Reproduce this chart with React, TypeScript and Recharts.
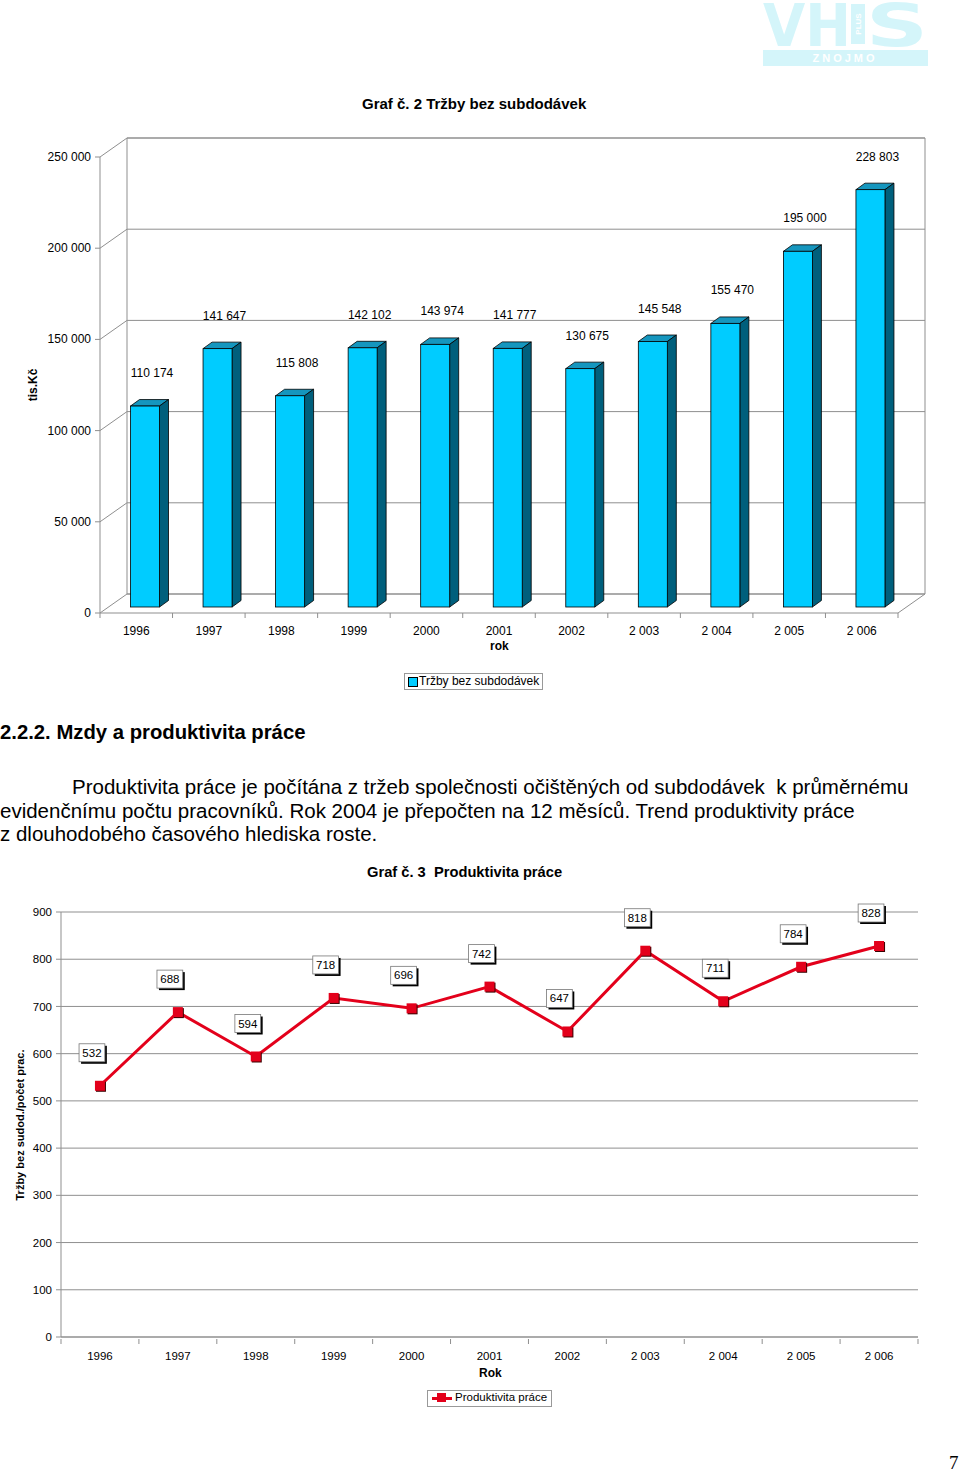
import React from "react";
import { BarChart, Bar, XAxis, YAxis, CartesianGrid, ReferenceArea, LabelList, LineChart, Line } from "recharts";

const years = ["1996", "1997", "1998", "1999", "2000", "2001", "2002", "2 003", "2 004", "2 005", "2 006"];
const salesTicks = [0, 50000, 100000, 150000, 200000, 250000];
const sales = [110174, 141647, 115808, 142102, 143974, 141777, 130675, 145548, 155470, 195000, 228803];
const productivityTicks = [0, 100, 200, 300, 400, 500, 600, 700, 800, 900];
const productivity = [532, 688, 594, 718, 696, 742, 647, 818, 711, 784, 828];

const FONT = "'Liberation Sans', Arial, Helvetica, sans-serif";
const GRID = "#8f8f8f";
const LOGO = "#D4F5FA";

// chart 1 geometry (back wall is the plot area, front axes are shifted by the depth)
const C1_W = 960;
const C1_H = 700;
const C1_MARGIN = { top: 138, right: 35, bottom: 105, left: 126 };
const DEPTH_X = 27;
const DEPTH_Y = 19;
const BAR_SHIFT_X = 18.5;
const BAR_SHIFT_Y = 13;
const BAR_DX = 9;
const BAR_DY = 6.5;
const C1_LEFT = C1_MARGIN.left + 1;
const C1_BAND = (C1_W - C1_LEFT - C1_MARGIN.right) / years.length;
const C1_BOTTOM = C1_H - C1_MARGIN.bottom - 1;

// chart 2 geometry
const C2_TOP = 880;
const C2_W = 960;
const C2_H = 500;
const C2_MARGIN = { top: 32, right: 42, bottom: 0, left: 0 };
const C2_YW = 61;
const C2_XH = 43;
const C2_BAND = (C2_W - C2_YW - C2_MARGIN.right) / years.length;

const salesData = years.map((year, i) => ({ year, value: sales[i] }));
const productivityData = years.map((year, i) => ({ year, value: productivity[i] }));

const fmt = (v: number) => String(v).replace(/\B(?=(\d{3})+(?!\d))/g, " ");

const Bar3D = (props: any) => {
  const { x, y, width, height } = props;
  const fx = x - BAR_SHIFT_X;
  const fy = y + BAR_SHIFT_Y;
  return (
    <g>
      <polygon
        points={`${fx},${fy} ${fx + BAR_DX},${fy - BAR_DY} ${fx + width + BAR_DX},${fy - BAR_DY} ${fx + width},${fy}`}
        fill="#1596BE"
        stroke="#000"
        strokeWidth={0.8}
      />
      <polygon
        points={`${fx + width},${fy} ${fx + width + BAR_DX},${fy - BAR_DY} ${fx + width + BAR_DX},${fy + height - BAR_DY} ${fx + width},${fy + height}`}
        fill="#005F7C"
        stroke="#000"
        strokeWidth={0.8}
      />
      <rect x={fx} y={fy} width={width} height={height} fill="#00CCFF" stroke="#000" strokeWidth={0.8} />
    </g>
  );
};

const SalesLabel = (props: any) => {
  const { x, y, value } = props;
  return (
    <text x={x + 3} y={y + BAR_SHIFT_Y - 29} textAnchor="middle" fontSize={12} fontFamily={FONT} fill="#000">
      {fmt(value)}
    </text>
  );
};

const SalesYTick = (props: any) => {
  const { y, payload } = props;
  const backX = C1_LEFT;
  const frontX = backX - DEPTH_X;
  const fy = y + DEPTH_Y;
  return (
    <g>
      <line x1={frontX} y1={fy} x2={backX} y2={y} stroke={GRID} />
      <line x1={frontX - 5} y1={fy} x2={frontX} y2={fy} stroke={GRID} />
      <text x={frontX - 9} y={fy + 4} textAnchor="end" fontSize={12} fontFamily={FONT} fill="#000">
        {fmt(payload.value)}
      </text>
    </g>
  );
};

const SalesXTick = (props: any) => {
  const { x, index, payload } = props;
  const fx = x - DEPTH_X;
  const fy = C1_BOTTOM + DEPTH_Y;
  const last = index === years.length - 1;
  return (
    <g>
      <line x1={fx - C1_BAND / 2} y1={fy} x2={fx - C1_BAND / 2} y2={fy + 5} stroke={GRID} />
      {last && <line x1={fx + C1_BAND / 2} y1={fy} x2={fx + C1_BAND / 2} y2={fy + 5} stroke={GRID} />}
      {last && <line x1={fx + C1_BAND / 2} y1={fy} x2={fx + C1_BAND / 2 + DEPTH_X} y2={C1_BOTTOM} stroke={GRID} />}
      <text x={fx} y={fy + 22} textAnchor="middle" fontSize={12} fontFamily={FONT} fill="#000">
        {payload.value}
      </text>
    </g>
  );
};

const ProdXTick = (props: any) => {
  const { x, y, index, payload } = props;
  const last = index === years.length - 1;
  return (
    <g>
      <line x1={x - C2_BAND / 2} y1={y} x2={x - C2_BAND / 2} y2={y + 5} stroke={GRID} />
      {last && <line x1={x + C2_BAND / 2} y1={y} x2={x + C2_BAND / 2} y2={y + 5} stroke={GRID} />}
      <text x={x} y={y + 21} textAnchor="middle" fontSize={11.5} fontFamily={FONT} fill="#000">
        {payload.value}
      </text>
    </g>
  );
};

const SquareDot = (props: any) => {
  const { cx, cy } = props;
  if (cx == null || cy == null) return null;
  return (
    <g>
      <rect x={cx - 4} y={cy - 4} width={10} height={10} fill="#3a0000" />
      <rect x={cx - 5} y={cy - 5} width={10} height={10} fill="#E3001B" />
    </g>
  );
};

const ProdLabel = (props: any) => {
  const { x, y, value } = props;
  const w = String(value).length * 6.6 + 6;
  const h = 18;
  const cx = x - 8;
  const cy = y - 33;
  return (
    <g>
      <rect x={cx - w / 2 + 2} y={cy - h / 2 + 2} width={w} height={h} fill="#000" />
      <rect x={cx - w / 2} y={cy - h / 2} width={w} height={h} fill="#fff" stroke="#777" strokeWidth={0.8} />
      <text x={cx} y={cy + 4} textAnchor="middle" fontSize={11.5} fontFamily={FONT} fill="#000">
        {value}
      </text>
    </g>
  );
};

const abs = (left: number, top: number, extra: React.CSSProperties = {}): React.CSSProperties => ({
  position: "absolute",
  left,
  top,
  fontFamily: FONT,
  color: "#000",
  whiteSpace: "pre",
  ...extra,
});

const rotated = (cx: number, cy: number, size: number): React.CSSProperties => ({
  position: "absolute",
  left: cx,
  top: cy,
  transform: "translate(-50%, -50%) rotate(-90deg)",
  fontFamily: FONT,
  fontWeight: "bold",
  fontSize: size,
  whiteSpace: "nowrap",
  color: "#000",
});

const Logo = () => (
  <svg style={{ position: "absolute", left: 760, top: 0 }} width={172} height={70}>
    <text x={3} y={46} fontSize={58} fontWeight={900} fontFamily="'DejaVu Sans', sans-serif" fill={LOGO} textLength={88} lengthAdjust="spacingAndGlyphs">
      VH
    </text>
    <rect x={91} y={4} width={14} height={40} fill={LOGO} />
    <text x={98} y={24} fontSize={8} fontWeight="bold" fontFamily={FONT} fill="#fff" textAnchor="middle" dominantBaseline="central" transform="rotate(-90 98 24)">
      PLUS
    </text>
    <text x={106} y={46} fontSize={58} fontWeight={900} fontFamily="'DejaVu Sans', sans-serif" fill={LOGO} textLength={62} lengthAdjust="spacingAndGlyphs">
      S
    </text>
    <rect x={3} y={50} width={165} height={16} fill={LOGO} />
    <text x={85} y={62} fontSize={11} fontWeight="bold" fontFamily={FONT} fill="#fff" textAnchor="middle" letterSpacing={3}>
      ZNOJMO
    </text>
  </svg>
);

export default function App() {
  return (
    <div style={{ position: "absolute", left: 0, top: 0, width: 960, height: 1473, background: "#fff", overflow: "hidden" }}>
      <Logo />

      <div style={abs(362, 95, { fontSize: 15, fontWeight: "bold" })}>Graf č. 2 Tržby bez subdodávek</div>

      <div style={{ position: "absolute", left: 0, top: 0 }}>
        <BarChart width={C1_W} height={C1_H} data={salesData} margin={C1_MARGIN} barSize={29}>
          <CartesianGrid vertical={false} stroke={GRID} />
          <ReferenceArea y1={0} y2={250000} fill="none" stroke={GRID} ifOverflow="visible" />
          <YAxis
            width={1}
            domain={[0, 250000]}
            ticks={salesTicks}
            interval={0}
            tickSize={0}
            tickLine={false}
            tick={<SalesYTick />}
            axisLine={{ stroke: GRID, transform: `translate(${-DEPTH_X}, ${DEPTH_Y})` } as any}
          />
          <XAxis
            dataKey="year"
            height={1}
            interval={0}
            tickSize={0}
            tickLine={false}
            tick={<SalesXTick />}
            axisLine={{ stroke: GRID, transform: `translate(${-DEPTH_X}, ${DEPTH_Y})` } as any}
          />
          <Bar dataKey="value" shape={<Bar3D />} isAnimationActive={false}>
            <LabelList dataKey="value" content={<SalesLabel />} />
          </Bar>
        </BarChart>
      </div>

      <div style={rotated(33, 385, 12)}>tis.Kč</div>
      <div style={abs(490, 639, { fontSize: 12, fontWeight: "bold" })}>rok</div>

      <div style={{ position: "absolute", left: 404, top: 673, width: 139, height: 17, border: "1px solid #999", boxSizing: "border-box", fontFamily: FONT, fontSize: 12 }}>
        <div style={{ position: "absolute", left: 3, top: 3, width: 8, height: 8, background: "#00CCFF", border: "1px solid #000" }} />
        <div style={{ position: "absolute", left: 14, top: 0, whiteSpace: "nowrap" }}>Tržby bez subdodávek</div>
      </div>

      <div style={abs(0, 721, { fontSize: 20.3, fontWeight: "bold" })}>2.2.2. Mzdy a produktivita práce</div>
      <div style={abs(0, 775, { fontSize: 20.5, lineHeight: "23.5px", textIndent: 72 })}>
        {"Produktivita práce je počítána z tržeb společnosti očištěných od subdodávek  k průměrnému\nevidenčnímu počtu pracovníků. Rok 2004 je přepočten na 12 měsíců. Trend produktivity práce\nz dlouhodobého časového hlediska roste."}
      </div>

      <div style={abs(367, 864, { fontSize: 14.7, fontWeight: "bold" })}>Graf č. 3  Produktivita práce</div>

      <div style={{ position: "absolute", left: 0, top: C2_TOP }}>
        <LineChart width={C2_W} height={C2_H} data={productivityData} margin={C2_MARGIN}>
          <CartesianGrid vertical={false} stroke={GRID} />
          <YAxis
            width={C2_YW}
            domain={[0, 900]}
            ticks={productivityTicks}
            interval={0}
            tickSize={5}
            tickMargin={4}
            stroke={GRID}
            tick={{ fill: "#000", fontSize: 11.5, fontFamily: FONT }}
          />
          <XAxis
            dataKey="year"
            scale="band"
            height={C2_XH}
            interval={0}
            tickSize={0}
            tickLine={false}
            stroke={GRID}
            tick={<ProdXTick />}
          />
          <Line
            dataKey="value"
            stroke="#E3001B"
            strokeWidth={3}
            dot={<SquareDot />}
            activeDot={false}
            isAnimationActive={false}
          >
            <LabelList dataKey="value" content={<ProdLabel />} />
          </Line>
        </LineChart>
      </div>

      <div style={rotated(20, 1125, 11)}>Tržby bez sudod./počet prac.</div>
      <div style={abs(479, 1366, { fontSize: 12, fontWeight: "bold" })}>Rok</div>

      <div style={{ position: "absolute", left: 427, top: 1390, width: 125, height: 17, border: "1px solid #999", boxSizing: "border-box", fontFamily: FONT, fontSize: 11.5 }}>
        <div style={{ position: "absolute", left: 4, top: 6, width: 20, height: 3, background: "#E3001B" }} />
        <div style={{ position: "absolute", left: 9, top: 2, width: 9, height: 9, background: "#E3001B" }} />
        <div style={{ position: "absolute", left: 27, top: 0, whiteSpace: "nowrap" }}>Produktivita práce</div>
      </div>

      <div style={abs(949, 1452, { fontSize: 19, fontFamily: "'Liberation Serif', 'Times New Roman', serif" })}>7</div>
    </div>
  );
}
